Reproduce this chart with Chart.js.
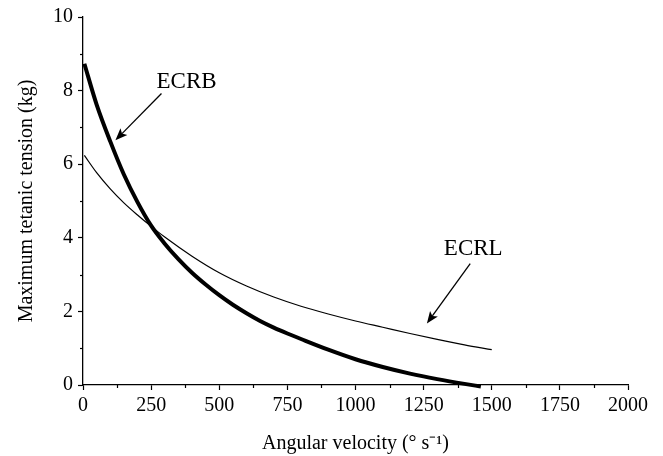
<!DOCTYPE html>
<html>
<head>
<meta charset="utf-8">
<script src="https://cdn.jsdelivr.net/npm/chart.js@4"></script>
<style>
    html, body { margin: 0; padding: 0; background: #fff; }
    #chart { display: block; }
</style>
</head>
<body>
<canvas id="chart" width="663" height="456"></canvas>
<script>
// Data
const ecrbVelocity = [5, 50, 100, 150, 200, 250, 300, 350, 400, 450, 500, 550, 600, 650, 700, 750, 800, 900, 1000, 1100, 1200, 1300, 1400, 1460];
const ecrbTension = [8.73, 7.62, 6.62, 5.72, 4.97, 4.33, 3.84, 3.42, 3.05, 2.73, 2.44, 2.18, 1.95, 1.74, 1.56, 1.4, 1.25, 0.96, 0.7, 0.49, 0.31, 0.16, 0.03, -0.04];

const ecrlVelocity = [5, 50, 100, 150, 200, 250, 300, 400, 500, 600, 700, 800, 900, 1000, 1100, 1200, 1300, 1400, 1500];
const ecrlTension = [6.24, 5.77, 5.33, 4.95, 4.62, 4.31, 4.02, 3.5, 3.05, 2.69, 2.39, 2.14, 1.93, 1.74, 1.57, 1.4, 1.24, 1.09, 0.96];

// Axis ticks
const xMajorTicks = [0, 250, 500, 750, 1000, 1250, 1500, 1750, 2000];
const xMinorTicks = [125, 375, 625, 875, 1125, 1375, 1625, 1875];
const yMajorTicks = [0, 2, 4, 6, 8, 10];
const yMinorTicks = [1, 3, 5, 7, 9];

// Curve labels with arrows (data coordinates)
const curveNames = ['ECRB', 'ECRL'];
const labelAt = [[380, 8.08], [1432, 3.53]];
const arrowFrom = [[288, 7.92], [1421, 3.30]];
const arrowTo = [[119, 6.65], [1262, 1.67]];

const serif = "'Liberation Serif', 'Times New Roman', serif";

function toPoints(xs, ys) {
    return xs.map((v, i) => ({ x: v, y: ys[i] }));
}

function drawArrow(ctx, sx, sy, tx, ty) {
    const a = Math.atan2(ty - sy, tx - sx);
    const len = 13, spread = 0.38;
    const bx = tx - len * 0.72 * Math.cos(a);
    const by = ty - len * 0.72 * Math.sin(a);
    ctx.beginPath();
    ctx.moveTo(sx, sy);
    ctx.lineTo(bx, by);
    ctx.stroke();
    ctx.beginPath();
    ctx.moveTo(tx, ty);
    ctx.lineTo(tx - len * Math.cos(a - spread), ty - len * Math.sin(a - spread));
    ctx.lineTo(bx, by);
    ctx.lineTo(tx - len * Math.cos(a + spread), ty - len * Math.sin(a + spread));
    ctx.closePath();
    ctx.fill();
}

const extras = {
    id: 'extras',
    beforeDraw(chart) {
        const ctx = chart.ctx;
        ctx.save();
        ctx.fillStyle = '#fff';
        ctx.fillRect(0, 0, chart.width, chart.height);
        ctx.restore();
    },
    afterDraw(chart) {
        const { ctx, scales: { x, y } } = chart;
        ctx.save();
        ctx.strokeStyle = '#000';
        ctx.fillStyle = '#000';
        ctx.lineWidth = 1.2;

        // minor ticks
        xMinorTicks.forEach(v => {
            const px = Math.round(x.getPixelForValue(v)) + 0.5;
            ctx.beginPath();
            ctx.moveTo(px, y.bottom);
            ctx.lineTo(px, y.bottom + 3);
            ctx.stroke();
        });
        yMinorTicks.forEach(v => {
            const py = Math.round(y.getPixelForValue(v)) + 0.5;
            ctx.beginPath();
            ctx.moveTo(x.left, py);
            ctx.lineTo(x.left - 3, py);
            ctx.stroke();
        });

        // curve labels and arrows
        ctx.font = '23px ' + serif;
        ctx.textAlign = 'center';
        ctx.textBaseline = 'alphabetic';
        ctx.lineWidth = 1.3;
        curveNames.forEach((name, i) => {
            ctx.fillText(name, x.getPixelForValue(labelAt[i][0]), y.getPixelForValue(labelAt[i][1]));
            drawArrow(ctx,
                x.getPixelForValue(arrowFrom[i][0]), y.getPixelForValue(arrowFrom[i][1]),
                x.getPixelForValue(arrowTo[i][0]), y.getPixelForValue(arrowTo[i][1]));
        });
        ctx.restore();
    }
};

const ctx = document.getElementById('chart').getContext('2d');
const chart = new Chart(ctx, {
    type: 'line',
    data: {
        datasets: [{
            label: 'ECRB',
            data: toPoints(ecrbVelocity, ecrbTension),
            borderColor: '#000',
            borderWidth: 4,
            pointRadius: 0,
            cubicInterpolationMode: 'monotone',
            clip: 6
        }, {
            label: 'ECRL',
            data: toPoints(ecrlVelocity, ecrlTension),
            borderColor: '#000',
            borderWidth: 1.2,
            pointRadius: 0,
            cubicInterpolationMode: 'monotone'
        }]
    },
    options: {
        responsive: false,
        animation: false,
        layout: { padding: { left: 0, right: 35, top: 17, bottom: 0 } },
        plugins: {
            legend: { display: false },
            tooltip: { enabled: false }
        },
        scales: {
            x: {
                type: 'linear',
                min: 0,
                max: 2000,
                afterBuildTicks: scale => { scale.ticks = xMajorTicks.map(v => ({ value: v })); },
                afterFit: scale => { scale.height = 71; },
                grid: { drawOnChartArea: false, drawTicks: true, tickLength: 5, color: '#000', tickWidth: 1.2 },
                border: { color: '#000', width: 1.3 },
                ticks: {
                    color: '#000',
                    padding: 4,
                    maxRotation: 0,
                    font: { family: serif, size: 20 },
                    callback: v => String(v)
                },
                title: {
                    display: true,
                    text: 'Angular velocity (° s⁻¹)',
                    color: '#000',
                    font: { family: serif, size: 20 },
                    padding: { top: 0, bottom: 0 }
                }
            },
            y: {
                min: 0,
                max: 10,
                afterBuildTicks: scale => { scale.ticks = yMajorTicks.map(v => ({ value: v })); },
                afterFit: scale => { scale.width = 83; },
                grid: { drawOnChartArea: false, drawTicks: true, tickLength: 5, color: '#000', tickWidth: 1.2 },
                border: { color: '#000', width: 1.3 },
                ticks: {
                    color: '#000',
                    padding: 5,
                    font: { family: serif, size: 20 },
                    callback: v => String(v)
                },
                title: {
                    display: true,
                    text: 'Maximum tetanic tension (kg)',
                    color: '#000',
                    font: { family: serif, size: 20 },
                    padding: { top: 15, bottom: 0 }
                }
            }
        }
    },
    plugins: [extras]
});
</script>
</body>
</html>
